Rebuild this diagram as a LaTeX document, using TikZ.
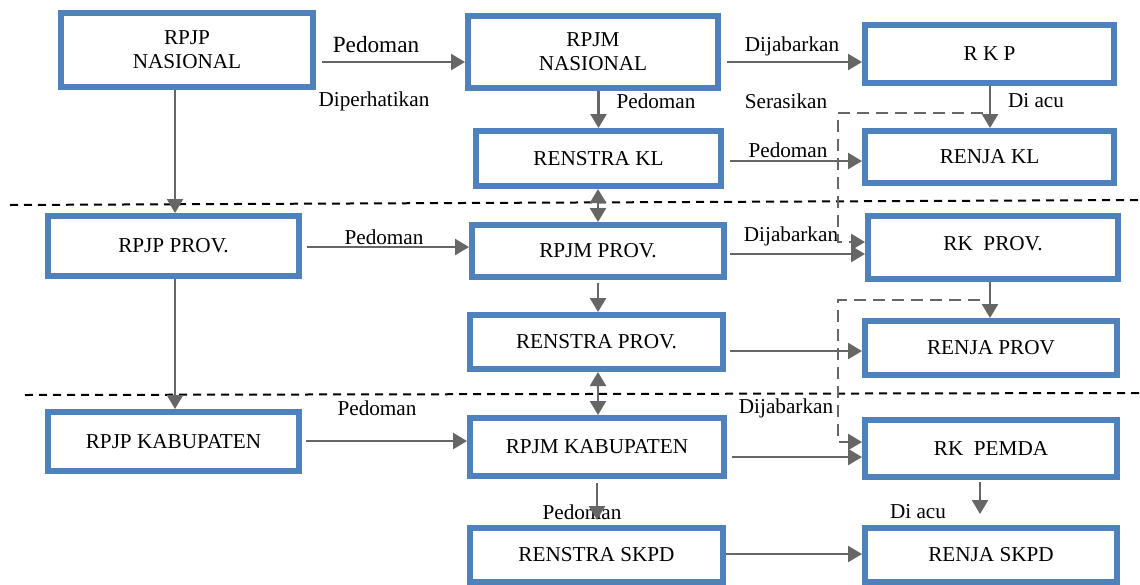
\documentclass[tikz,border=0pt]{standalone}
\usepackage{fontspec}
\setmainfont{Liberation Serif}
\usepackage{tikz}
\usetikzlibrary{arrows.meta}
\definecolor{boxblue}{RGB}{79,129,189}
\definecolor{linegray}{RGB}{102,102,102}
\tikzset{plan node/.style={rectangle,draw=boxblue,line width=3pt,fill=white,inner sep=0pt,align=center,font=\fontsize{10.6}{12}\selectfont},
	label node/.style={inner sep=0pt,font=\fontsize{10.6}{12}\selectfont},
	link/.style={draw=linegray,line width=1.25pt,->},
	align link/.style={link,line width=1.3pt,dash pattern=on 6pt off 3.5pt},
	level line/.style={draw=black,line width=1pt,dash pattern=on 4pt off 3pt},}

\begin{document}
\begin{tikzpicture}[x=0.5pt,y=-0.5pt,>={Triangle[length=7pt,width=8pt]}]
	\useasboundingbox (0,0) rectangle (1140,584);
	% level separators
	\draw[level line] (10,205) -- (1140,200);
	\draw[level line] (25,395) -- (1140,393);

	% national
	\node[plan node, minimum width=126pt, minimum height=37pt] (rpjpnas) at (187,50) {RPJP\\NASIONAL};
	\node[plan node, minimum width=125pt, minimum height=36pt] (rpjmnas) at (593,52) {RPJM\\NASIONAL};
	\node[plan node, minimum width=124.5pt, minimum height=29pt] (rkp) at (989.5,54) {R K P};
	\node[plan node, minimum width=122.5pt, minimum height=27.5pt] (renstrakl) at (598.5,158.5) {RENSTRA KL};
	\node[plan node, minimum width=124.5pt, minimum height=26pt] (renjakl) at (989.5,157) {RENJA KL};
	% province
	\node[plan node, minimum width=125.5pt, minimum height=30pt] (rpjpprov) at (173.5,246) {RPJP PROV.};
	\node[plan node, minimum width=126pt, minimum height=26pt] (rpjmprov) at (598,251) {RPJM PROV.};
	\node[plan node, minimum width=125pt, minimum height=31.5pt, text depth=4pt] (rkprov) at (993,247.5) {RK~~PROV.};
	\node[plan node, minimum width=126.5pt, minimum height=27pt] (renstraprov) at (596.5,342) {RENSTRA PROV.};
	\node[plan node, minimum width=126pt, minimum height=27pt] (renjaprov) at (991,348) {RENJA PROV};
	% kabupaten
	\node[plan node, minimum width=125.5pt, minimum height=29.5pt] (rpjpkab) at (173.5,441.5) {RPJP KABUPATEN};
	\node[plan node, minimum width=127pt, minimum height=29pt] (rpjmkab) at (597,447) {RPJM KABUPATEN};
	\node[plan node, minimum width=126pt, minimum height=28.5pt] (rkpemda) at (991,448.5) {RK~~PEMDA};
	\node[plan node, minimum width=126.5pt, minimum height=27pt] (renstraskpd) at (596.5,555) {RENSTRA SKPD};
	\node[plan node, minimum width=126pt, minimum height=27pt] (renjaskpd) at (991,555) {RENJA SKPD};

	% labels
	\node[label node, font=\fontsize{11.6}{13}\selectfont] (lpedoman1) at (376,45) {Pedoman};
	\node[label node] (lperhati) at (374,101) {Diperhatikan};
	\node[label node] (ljabar1) at (792,46) {Dijabarkan};
	\node[label node] (lpedoman2) at (656,101) {Pedoman};
	\node[label node] (lserasi) at (786,101) {Serasikan};
	\node[label node] (lacu1) at (1036,101) {Di acu};
	\node[label node] (lpedoman3) at (788,150) {Pedoman};
	\node[label node] (lpedoman4) at (384,237) {Pedoman};
	\node[label node] (ljabar2) at (791,236) {Dijabarkan};
	\node[label node] (lpedoman5) at (377,408) {Pedoman};
	\node[label node] (ljabar3) at (786,408) {Dijabarkan};
	\node[label node] (lpedoman6) at (582,512) {Pedoman};
	\node[label node] (lacu2) at (918,512) {Di acu};

	\coordinate (serasi1) at (983,113);
	\coordinate (serasi2) at (980,300);

	% connectors
	\draw[link, shorten <=3pt] (rpjpnas.east |- 0,62) -- (rpjmnas.west |- 0,62);
	\draw[link, shorten <=3pt] (rpjmnas.east |- 0,62) -- (rkp.west |- 0,62);
	\draw[link] (rkp.south -| 990,0) -- (renjakl.north -| 990,0);
	\draw[link] (rpjmnas.south -| renstrakl.north) -- (renstrakl.north);
	\draw[link, shorten <=3pt] (renstrakl.east |- 0,161) -- (renjakl.west |- 0,161);
	\draw[link, <->] (renstrakl.south -| 598,0) -- (rpjmprov.north -| 598,0);
	\draw[link] (rpjpnas.south -| 175,0) -- (rpjpprov.north -| 175,0);
	\draw[link, shorten <=2.5pt] (rpjpprov.east |- 0,247) -- (rpjmprov.west |- 0,247);
	\draw[link, shorten <=1.5pt] (rpjmprov.east |- 0,254) -- (rkprov.west |- 0,254);
	\draw[align link] (serasi1) -- (838,113) -- (838,242) -- (rkprov.west |- 0,242);
	\draw[link] (rkprov.south -| 990,0) -- (renjaprov.north -| 990,0);
	\draw[link, shorten <=1.5pt] (rpjmprov.south -| 598,0) -- (renstraprov.north -| 598,0);
	\draw[link, shorten <=2pt] (renstraprov.east |- 0,351) -- (renjaprov.west |- 0,351);
	\draw[link, <->] (renstraprov.south -| 598,0) -- (rpjmkab.north -| 598,0);
	\draw[link] (rpjpprov.south -| 175,0) -- (rpjpkab.north -| 175,0);
	\draw[link, shorten <=2pt] (rpjpkab.east |- 0,441) -- (rpjmkab.west |- 0,441);
	\draw[link, shorten <=2.5pt] (rpjmkab.east |- 0,457) -- (rkpemda.west |- 0,457);
	\draw[align link] (serasi2) -- (838,300) -- (838,442) -- (rkpemda.west |- 0,442);
	\draw[link, shorten <=1pt, shorten >=5.5pt] (rkpemda.south -| 980,0) -- (renjaskpd.north -| 980,0);
	\draw[link, shorten <=2pt, shorten >=2.5pt] (rpjmkab.south -| 597,0) -- (renstraskpd.north -| 597,0);
	\draw[link] (renstraskpd.east |- 0,554) -- (renjaskpd.west |- 0,554);
\end{tikzpicture}
\end{document}
